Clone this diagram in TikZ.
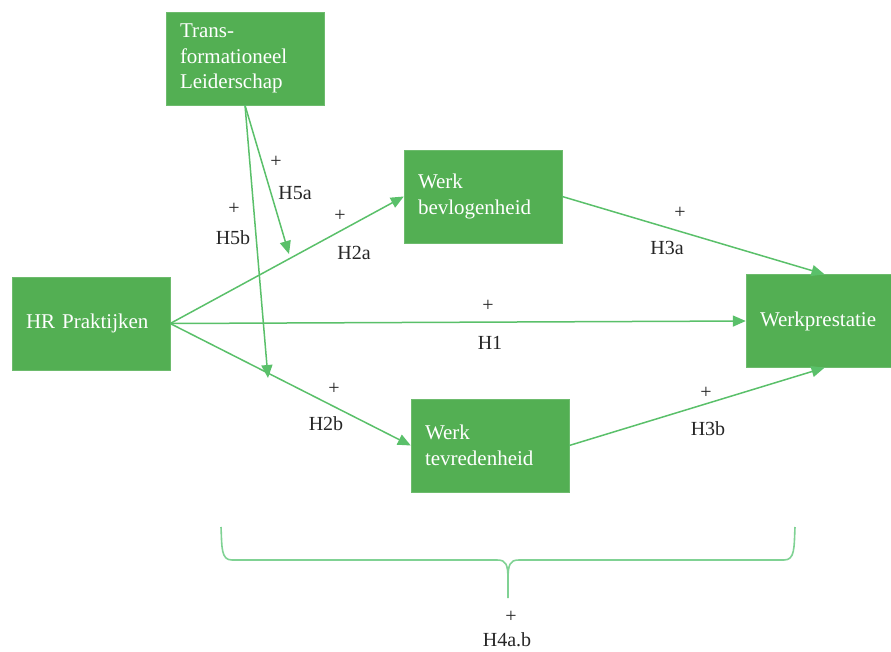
\documentclass[tikz,border=0pt]{standalone}
\usepackage{fontspec}
\setmainfont{Liberation Serif}
\usetikzlibrary{arrows.meta,calc}

\definecolor{boxgreen}{RGB}{83,175,83}
\definecolor{linegreen}{RGB}{90,192,106}
\definecolor{bracegreen}{RGB}{128,210,148}

\tikzset{
  varbox/.style={rectangle, fill=boxgreen, draw=boxgreen!85!white, text=white,
    minimum height=93pt, text width=130pt, inner xsep=14pt, align=left,
    font=\fontsize{21}{25.5}\selectfont},
  hyp/.style={-{Triangle[length=13pt,width=11pt]}, linegreen, line width=1.5pt},
  lbl/.style={font=\fontsize{20}{22}\selectfont, text=black!85, inner sep=0pt},
}

\begin{document}
\begin{tikzpicture}[x=1pt,y=-1pt]
\useasboundingbox (0,0) rectangle (891,651);

\node[varbox] (trans) at (245,58.5) {Trans-\\formationeel\\Leiderschap};
\node[varbox] (hr) at (91,323.5) {HR Praktijken};
\node[varbox] (bev) at (483,196.5) {Werk\\bevlogenheid};
\node[varbox] (tev) at (490,445.5) {Werk\\tevredenheid};
\node[varbox, text width=117pt] (wp) at (818.5,321) {Werkprestatie};

\coordinate (m5a) at (289,254);
\coordinate (m5b) at (268,378);

\draw[hyp] (hr.east) -- (bev.west);
\draw[hyp] (hr.east) -- (tev.west);
\draw[hyp] (hr.east) -- (wp.west);
\draw[hyp] (bev.east) -- ([xshift=6pt]wp.north);
\draw[hyp] (tev.east) -- ([xshift=6pt]wp.south);
\draw[hyp] (trans.south) -- (m5a);
\draw[hyp] (trans.south) -- (m5b);

% brace
\draw[bracegreen, line width=1.6pt] (221,527) .. controls (222,548) and (221,560) .. (232,560)
  -- (497,560) .. controls (506,560) and (508,564) .. (508,580) -- (508,598);
\draw[bracegreen, line width=1.6pt] (508,580) .. controls (508,564) and (510,560) .. (519,560)
  -- (784,560) .. controls (795,560) and (794,548) .. (795,527);

\node[lbl] (p5a) at (276,162) {+};
\node[lbl] (l5a) at (295,193) {H5a};
\node[lbl] (p5b) at (234,209) {+};
\node[lbl] (l5b) at (233,238) {H5b};
\node[lbl] (p2a) at (340,216) {+};
\node[lbl] (l2a) at (354,253) {H2a};
\node[lbl] (p1) at (488,306) {+};
\node[lbl] (l1) at (490,343) {H1};
\node[lbl] (p3a) at (680,213) {+};
\node[lbl] (l3a) at (667,248) {H3a};
\node[lbl] (p2b) at (334,389) {+};
\node[lbl] (l2b) at (326,424) {H2b};
\node[lbl] (p3b) at (706,393) {+};
\node[lbl] (l3b) at (708,429) {H3b};
\node[lbl] (p4) at (511,617) {+};
\node[lbl] (l4) at (507,640) {H4a.b};
\end{tikzpicture}
\end{document}
